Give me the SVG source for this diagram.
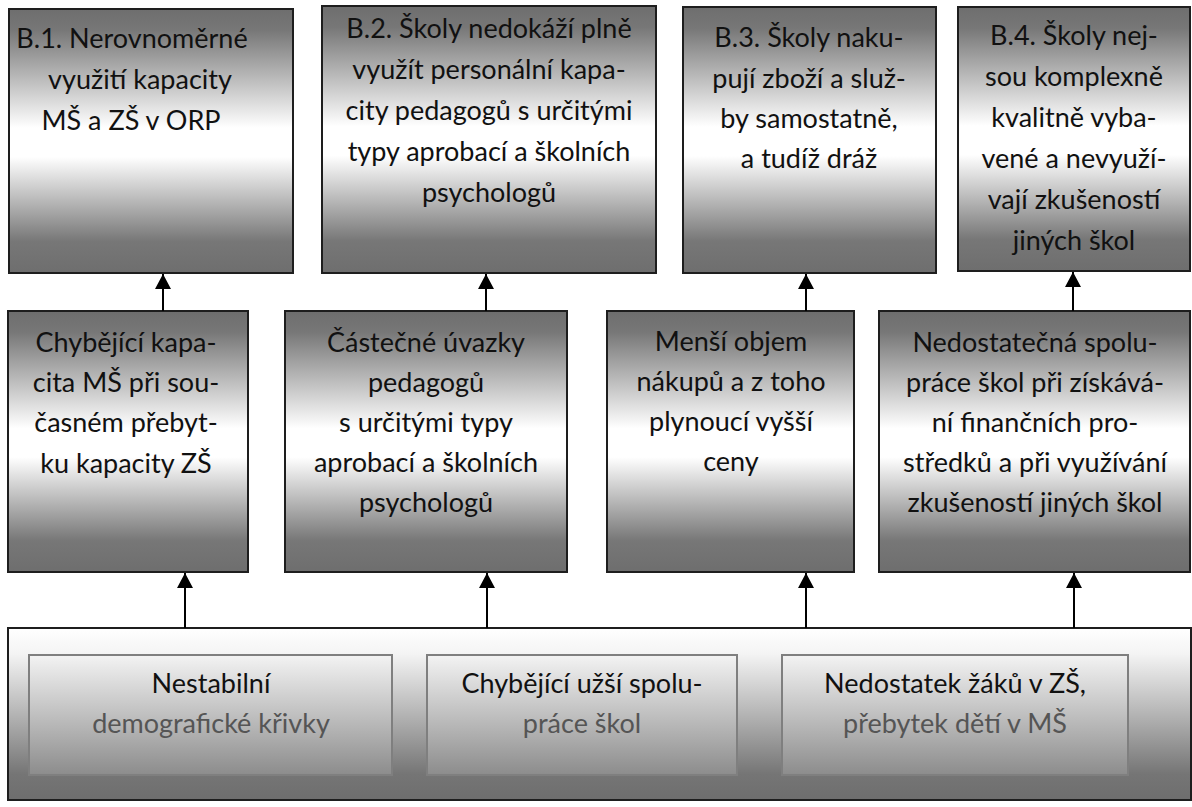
<svg xmlns="http://www.w3.org/2000/svg" width="1192" height="807" viewBox="0 0 1192 807">
<defs>
<linearGradient id="gBox" x1="0" y1="0" x2="0" y2="1">
<stop offset="0" stop-color="#6e6e6e"/>
<stop offset="0.08" stop-color="#777777"/>
<stop offset="0.45" stop-color="#ffffff"/>
<stop offset="0.56" stop-color="#ffffff"/>
<stop offset="0.88" stop-color="#777777"/>
<stop offset="1" stop-color="#6e6e6e"/>
</linearGradient>
<linearGradient id="gBig" x1="0" y1="0" x2="0" y2="1">
<stop offset="0" stop-color="#ffffff"/>
<stop offset="0.15" stop-color="#f4f4f4"/>
<stop offset="0.85" stop-color="#757575"/>
<stop offset="1" stop-color="#6e6e6e"/>
</linearGradient>
<linearGradient id="gInner" x1="0" y1="0" x2="0" y2="1">
<stop offset="0" stop-color="#f3f3f3"/>
<stop offset="1" stop-color="#8c8c8c"/>
</linearGradient>
<marker id="ah" markerUnits="userSpaceOnUse" markerWidth="16" markerHeight="16" viewBox="0 0 16 16" refX="15" refY="8" orient="auto-start-reverse">
<path d="M0,0 L15,8 L0,16 Z" fill="#000"/>
</marker>
</defs>
<style>
.box{fill:url(#gBox);stroke:#1e1e1e;stroke-width:2}
.big{fill:url(#gBig);stroke:#1e1e1e;stroke-width:2}
.inner{fill:url(#gInner);stroke:#7f7f7f;stroke-width:2}
text{font-family:Lato,"Liberation Sans",sans-serif;font-size:27px;fill:#111111;text-anchor:middle}
.grey{fill:#555555}
.conn line{stroke:#000;stroke-width:2;marker-start:url(#ah)}
</style>

<g id="big-box">
<rect class="big" x="8" y="628" width="1183" height="172"/>
</g>

<g id="node-b1">
<rect class="box" x="9" y="9" width="284" height="264"/>
<text x="132" y="48">B.1. Nerovnoměrné</text>
<text x="140" y="89">využití kapacity</text>
<text x="131" y="130">MŠ a ZŠ v ORP</text>
</g>
<g id="node-b2">
<rect class="box" x="322" y="6" width="334" height="267"/>
<text x="489" y="38">B.2. Školy nedokáží plně</text>
<text x="489" y="79">využít personální kapa-</text>
<text x="489" y="120">city pedagogů s určitými</text>
<text x="489" y="161">typy aprobací a školních</text>
<text x="489" y="202">psychologů</text>
</g>
<g id="node-b3">
<rect class="box" x="683" y="7" width="253" height="266"/>
<text x="809" y="47">B.3. Školy naku-</text>
<text x="809" y="88">pují zboží a služ-</text>
<text x="809" y="128">by samostatně,</text>
<text x="809" y="168">a tudíž dráž</text>
</g>
<g id="node-b4">
<rect class="box" x="958" y="7" width="232" height="264"/>
<text x="1074" y="45">B.4. Školy nej-</text>
<text x="1074" y="86">sou komplexně</text>
<text x="1074" y="127">kvalitně vyba-</text>
<text x="1074" y="168">vené a nevyuží-</text>
<text x="1074" y="209">vají zkušeností</text>
<text x="1074" y="250">jiných škol</text>
</g>

<g id="node-m1">
<rect class="box" x="8" y="311" width="240" height="261"/>
<text x="126" y="352">Chybějící kapa-</text>
<text x="126" y="392">cita MŠ při sou-</text>
<text x="126" y="432">časném přebyt-</text>
<text x="126" y="473">ku kapacity ZŠ</text>
</g>
<g id="node-m2">
<rect class="box" x="285" y="311" width="282" height="261"/>
<text x="426" y="352">Částečné úvazky</text>
<text x="426" y="392">pedagogů</text>
<text x="426" y="432">s určitými typy</text>
<text x="426" y="472">aprobací a školních</text>
<text x="426" y="512">psychologů</text>
</g>
<g id="node-m3">
<rect class="box" x="607" y="311" width="247" height="261"/>
<text x="731" y="351">Menší objem</text>
<text x="731" y="391">nákupů a z toho</text>
<text x="731" y="431">plynoucí vyšší</text>
<text x="731" y="471">ceny</text>
</g>
<g id="node-m4">
<rect class="box" x="879" y="311" width="311" height="261"/>
<text x="1035" y="352">Nedostatečná spolu-</text>
<text x="1035" y="392">práce škol při získává-</text>
<text x="1035" y="432">ní finančních pro-</text>
<text x="1035" y="472">středků a při využívání</text>
<text x="1035" y="512">zkušeností jiných škol</text>
</g>

<g id="node-c1">
<rect class="inner" x="29" y="655" width="363" height="120"/>
<text x="211" y="693">Nestabilní</text>
<text x="211" y="733" class="grey">demografické křivky</text>
</g>
<g id="node-c2">
<rect class="inner" x="427" y="655" width="310" height="120"/>
<text x="582" y="693">Chybějící užší spolu-</text>
<text x="582" y="733" class="grey">práce škol</text>
</g>
<g id="node-c3">
<rect class="inner" x="782" y="655" width="346" height="120"/>
<text x="955" y="693">Nedostatek žáků v ZŠ,</text>
<text x="955" y="733" class="grey">přebytek dětí v MŠ</text>
</g>

<g id="connectors" class="conn">
<line x1="163" y1="274" x2="163" y2="311"/>
<line x1="486" y1="274" x2="486" y2="311"/>
<line x1="806" y1="274" x2="806" y2="311"/>
<line x1="1073" y1="272" x2="1073" y2="311"/>
<line x1="185" y1="573" x2="185" y2="628"/>
<line x1="487" y1="573" x2="487" y2="628"/>
<line x1="806" y1="573" x2="806" y2="628"/>
<line x1="1074" y1="573" x2="1074" y2="628"/>
</g>
</svg>
